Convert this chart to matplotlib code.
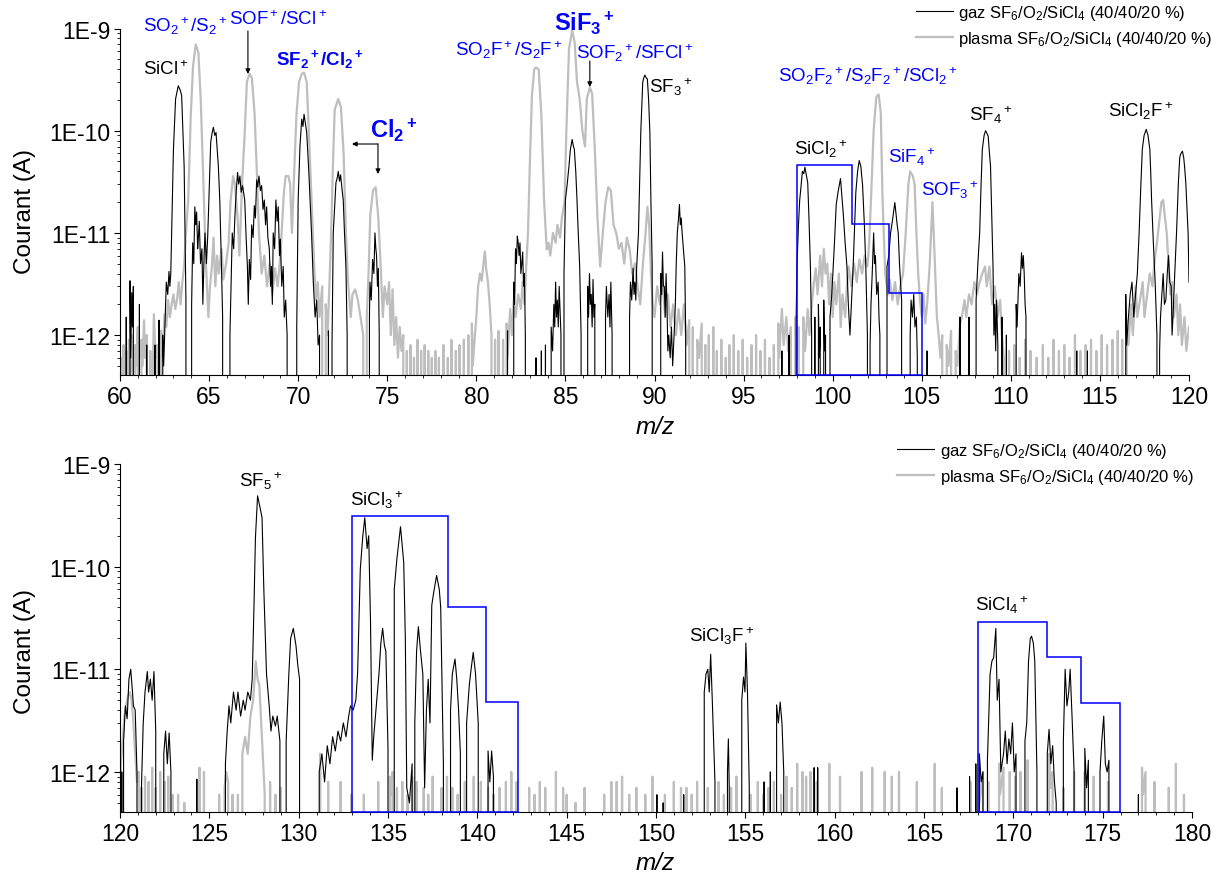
import numpy as np
import matplotlib
matplotlib.use("Agg")
import matplotlib.pyplot as plt
from matplotlib.ticker import FixedLocator, MultipleLocator, FuncFormatter, LogLocator, NullFormatter

plt.rcParams['font.family'] = ['Liberation Sans', 'DejaVu Sans']
plt.rcParams['mathtext.fontset'] = 'custom'
plt.rcParams['mathtext.rm'] = 'Liberation Sans'
plt.rcParams['mathtext.it'] = 'Liberation Sans:italic'
plt.rcParams['mathtext.bf'] = 'Liberation Sans:bold'
plt.rcParams['mathtext.default'] = 'regular'

# ---------------- data (m/z, current in pA; 0 = below detection) ----------------
gas_top = [
    (60.0,0),(60.02,1.9),(60.06,0),(60.3,0),(60.35,1.5),(60.4,0),(60.5,0),(60.56,3.4),(60.6,0.6),(60.66,2.6),
    (60.7,1.2),(60.75,3.0),(60.8,0),(61.05,0),(61.09,2.0),(61.13,0),(61.45,0),(61.5,0.8),(61.55,0),(61.92,0),
    (61.96,0.8),(62.0,0),(62.15,0),(62.19,1.4),(62.23,0),(62.37,0),(62.4,1.0),(62.45,0.5),(62.55,1.8),(62.6,3.3),
    (62.68,2.5),(62.75,4.2),(62.8,3.0),(62.85,4.0),(62.9,10),(63.0,66),(63.12,205),(63.27,275),(63.38,250),(63.46,220),
    (63.6,45),(63.7,2.2),(63.8,0),(63.95,0),(64.02,2),(64.08,8),(64.14,5),(64.2,18),(64.25,12),(64.3,16),
    (64.36,7),(64.4,9),(64.45,13),(64.52,5),(64.6,7),(64.65,2),(64.72,6),(64.77,10),(64.85,5),(64.92,9),
    (64.96,14.6),(65.09,77),(65.17,95),(65.24,108),(65.32,90),(65.39,96),(65.52,45),(65.6,21),(65.68,6),(65.76,1.5),
    (65.84,0),(66.08,0),(66.17,1),(66.3,10),(66.38,7),(66.45,14.6),(66.52,25),(66.6,39),(66.66,30),(66.73,36),
    (66.8,25),(66.88,29),(67.0,21),(67.08,9),(67.15,4.7),(67.2,2),(67.26,5.5),(67.33,3.5),(67.39,12),(67.47,9),
    (67.54,18.5),(67.6,14),(67.67,33),(67.73,28),(67.8,36),(67.88,26),(67.95,29),(68.03,17),(68.1,21),(68.17,12),
    (68.23,18),(68.3,9),(68.38,7),(68.45,3),(68.5,4.7),(68.55,2),(68.6,10),(68.68,7),(68.75,21),(68.82,13),
    (68.88,18),(68.95,6),(69.0,8.7),(69.08,3),(69.16,4.7),(69.22,1.5),(69.3,2.2),(69.38,1),(69.45,0),(69.85,0),
    (69.92,1.2),(70.0,21),(70.1,70),(70.2,130),(70.27,110),(70.33,145),(70.4,120),(70.48,96),(70.6,39),(70.75,10),
    (70.85,3.3),(70.95,1.5),(71.04,2.2),(71.12,0.8),(71.2,1),(71.3,0),(71.65,0),(71.7,1.1),(71.75,0),(71.85,0),
    (71.9,0.8),(71.97,10),(72.05,18),(72.12,31),(72.2,35),(72.25,40),(72.32,32),(72.38,37),(72.45,28),(72.53,21),
    (72.6,10),(72.68,4.7),(72.75,1),(72.8,0),(73.95,0),(74.0,1.5),(74.03,3.3),(74.1,2.2),(74.18,5.5),(74.25,4),
    (74.31,10),(74.36,7),(74.4,6),(74.45,3),(74.5,4.5),(74.55,1),(74.6,0),(81.7,0),(81.75,1.1),(81.8,0),
    (82.05,0),(82.1,3.3),(82.15,2),(82.2,7),(82.25,5),(82.3,9.3),(82.35,8),(82.4,6),(82.45,8),(82.5,4),
    (82.55,5),(82.6,6.5),(82.65,3),(82.7,4),(82.75,1),(82.8,0),(83.3,0),(83.35,0.6),(83.4,0),(83.6,0),
    (83.65,0.7),(83.7,0),(83.85,0),(83.88,0.8),(83.92,0),(84.1,0),(84.2,1.2),(84.28,0.7),(84.35,2),(84.4,1.2),
    (84.45,3.3),(84.5,1.5),(84.55,2.2),(84.6,1.2),(84.65,3),(84.75,1),(84.85,0),(84.92,4),(85.0,21),(85.1,30),
    (85.2,45),(85.28,66),(85.38,82),(85.45,70),(85.5,66),(85.58,40),(85.65,21),(85.72,10),(85.8,4.7),(85.88,1),
    (85.95,0),(86.2,0),(86.25,3),(86.3,1.5),(86.35,4),(86.4,2),(86.45,2.5),(86.5,1.2),(86.55,3.5),(86.6,1.5),
    (86.65,2),(86.72,0),(87.2,0),(87.25,1.5),(87.3,3),(87.38,1.5),(87.45,2.5),(87.5,1.2),(87.55,3.3),(87.62,1),
    (87.68,0),(88.55,0),(88.6,1.5),(88.65,3.3),(88.72,2.2),(88.8,4.5),(88.85,2.5),(88.9,3.3),(88.95,2.2),(89.0,4.7),
    (89.1,10),(89.18,40),(89.23,96),(89.3,200),(89.34,300),(89.4,330),(89.46,350),(89.53,330),(89.6,320),(89.67,200),
    (89.74,96),(89.8,20),(89.87,4.7),(89.93,0),(90.3,0),(90.35,4),(90.4,2.5),(90.45,6.5),(90.5,3),(90.55,3),
    (90.6,1.5),(90.65,4),(90.7,2),(90.75,0.7),(90.8,1),(90.88,0.6),(90.95,1.2),(91.02,0.5),(91.1,1),(91.17,2),
    (91.22,5),(91.28,10),(91.35,14),(91.4,19),(91.45,12),(91.5,14),(91.55,10),(91.62,7),(91.7,4.7),(91.75,1),
    (91.78,0),(97.1,0),(97.15,0.7),(97.2,0),(97.5,0),(97.55,1),(97.6,0),(97.9,0),(97.95,1.5),(98.0,5),
    (98.08,12),(98.15,21),(98.22,28),(98.3,40),(98.38,38),(98.44,44),(98.52,37),(98.6,31),(98.67,14),(98.75,4.7),
    (98.82,1),(98.9,0),(99.0,1.5),(99.05,0),(99.15,0),(99.2,2),(99.25,0.6),(99.3,1.2),(99.38,0),(99.45,0),
    (99.5,2.2),(99.55,0.7),(99.6,1),(99.65,0),(99.8,0),(99.85,1.5),(99.95,2.5),(100.03,4.7),(100.1,8),(100.2,19),
    (100.3,25),(100.38,30),(100.44,34),(100.5,25),(100.6,15),(100.7,8),(100.8,4.7),(100.88,2),(100.97,1),(101.05,2),
    (101.15,4.7),(101.22,10),(101.3,25),(101.4,40),(101.49,51),(101.58,45),(101.68,29),(101.78,12),(101.86,4.7),(101.95,1),
    (102.05,0),(102.1,0.8),(102.15,2),(102.22,4),(102.3,10),(102.35,5),(102.4,6),(102.47,2.5),(102.55,3.3),(102.6,1.5),
    (102.65,1),(102.72,0),(103.0,0),(103.05,4.7),(103.15,6),(103.25,10),(103.35,13),(103.42,16),(103.49,19.8),(103.56,15),
    (103.62,12),(103.68,10),(103.75,5),(103.82,3),(103.87,2.2),(103.96,0),(104.3,0),(104.35,1),(104.4,2.2),(104.48,1.5),
    (104.55,2.5),(104.62,1.2),(104.7,1.5),(104.75,0.6),(104.8,0),(105.2,0),(105.3,0.7),(105.4,0),(107.1,0),(107.15,1.5),
    (107.2,0),(107.6,0),(107.65,1.5),(107.7,0),(108.0,0),(108.05,2.2),(108.15,5),(108.25,10),(108.33,30),(108.4,66),
    (108.5,90),(108.58,100),(108.65,95),(108.73,88),(108.8,60),(108.86,45),(108.93,15),(109.0,4.7),(109.05,1),(109.1,2),
    (109.15,0.7),(109.2,2.2),(109.27,0.8),(109.35,0),(109.45,0),(109.5,1.5),(109.55,0),(109.7,0),(109.75,1),(109.8,0),
    (110.25,0),(110.3,2),(110.35,1.2),(110.45,4),(110.52,3),(110.6,6.4),(110.65,4.5),(110.7,6),(110.75,4),(110.8,2),
    (110.85,1.5),(110.9,0),(113.65,0),(113.7,0.7),(113.75,0),(114.25,0),(114.3,0.7),(114.35,0),(116.4,0),(116.45,2.5),
    (116.5,0.8),(116.6,1.5),(116.7,2.5),(116.8,3.3),(116.9,1.5),(117.0,2.5),(117.1,4),(117.2,10),(117.3,30),(117.38,66),
    (117.48,90),(117.6,103),(117.7,90),(117.8,66),(117.85,40),(117.9,21),(118.0,8),(118.1,3.3),(118.2,1),(118.3,0),
    (118.35,0.7),(118.4,1.5),(118.48,2.5),(118.55,4),(118.62,2),(118.7,2.2),(118.78,4),(118.85,6),(118.92,3.3),(119.0,3),
    (119.05,1),(119.1,1.5),(119.2,4),(119.3,10),(119.4,30),(119.48,55),(119.55,60),(119.63,63),(119.7,55),(119.75,45),
    (119.82,31),(119.88,18),(119.95,10),(120.0,3.3),
]

plasma_top = [
    (60.0,0),(60.05,0.6),(60.1,0),(60.2,0.8),(60.25,0),(60.35,0.7),(60.4,0.5),(60.45,0),(60.5,0.9),(60.55,0),
    (60.65,1.0),(60.7,0),(60.85,0.8),(60.9,0.5),(61.0,1.2),(61.05,0),(61.2,0.9),(61.25,0.5),(61.35,1.4),(61.4,0.6),
    (61.5,1.0),(61.55,0),(61.7,0.7),(61.75,0),(61.85,0.5),(61.9,1.6),(62.0,0.6),(62.1,0.8),(62.2,0),(62.3,1.1),
    (62.4,0.7),(62.5,1.6),(62.6,1.2),(62.7,2.2),(62.8,1.5),(62.9,2),(63.0,2.5),(63.1,1.8),(63.2,2.2),(63.3,3.3),
    (63.4,2.0),(63.5,3.3),(63.6,4.7),(63.7,10),(63.83,21),(63.97,140),(64.1,430),(64.25,700),(64.4,580),(64.53,205),
    (64.68,31),(64.83,4.7),(64.96,1.5),(65.05,3),(65.15,4.5),(65.25,9),(65.35,3),(65.45,6),(65.55,4),(65.7,7),
    (65.8,3.5),(65.95,5),(66.1,8),(66.2,20),(66.35,36),(66.45,30),(66.6,14),(66.7,6),(66.85,30),(67.0,96),
    (67.12,300),(67.27,360),(67.4,330),(67.55,150),(67.67,45),(67.8,10),(67.95,4),(68.1,6),(68.25,3),(68.4,5),
    (68.55,2.5),(68.7,4.5),(68.85,3),(69.0,6),(69.1,12),(69.2,25),(69.3,36),(69.45,36),(69.55,30),(69.65,10),
    (69.75,30),(69.9,140),(70.05,300),(70.2,360),(70.33,370),(70.48,300),(70.6,96),(70.75,21),(70.9,4.7),(71.0,2.2),
    (71.1,3.3),(71.2,1.5),(71.35,3),(71.45,0),(71.55,2),(71.65,1),(71.75,3),(71.85,10),(71.95,45),(72.05,160),
    (72.25,205),(72.4,170),(72.55,60),(72.68,10),(72.8,3.3),(72.95,1.5),(73.05,2.5),(73.2,2.8),(73.35,2.2),(73.5,1.5),
    (73.65,1),(73.75,0),(73.85,1.5),(73.95,4),(74.05,15),(74.2,26),(74.35,28),(74.5,14),(74.65,4),(74.75,1.5),
    (74.85,3),(75.0,2),(75.1,3.3),(75.2,1),(75.3,2.8),(75.4,0.8),(75.5,1.5),(75.6,0.6),(75.7,1.2),(75.8,0.7),
    (75.9,1),(76.0,0),(76.1,0.7),(76.15,0),(76.3,0.8),(76.35,0),(76.5,0.6),(76.55,0),(76.7,0.9),(76.75,0),
    (76.9,0.7),(76.95,0),(77.1,0.8),(77.15,0),(77.3,0.7),(77.35,0),(77.5,0.6),(77.55,0),(77.7,0.7),(77.75,0),
    (77.9,0.6),(77.95,0),(78.15,0.8),(78.2,0),(78.4,0.6),(78.45,0),(78.6,0.9),(78.65,0),(78.85,0.7),(78.9,0),
    (79.05,0.8),(79.1,0),(79.3,0.9),(79.35,0),(79.55,1.0),(79.6,0),(79.75,1.3),(79.8,0.5),(79.9,0.9),(80.0,1.5),
    (80.1,3),(80.2,4),(80.3,3.4),(80.4,5),(80.48,6.6),(80.55,4.5),(80.65,3.3),(80.75,2),(80.85,1.0),(80.95,0),
    (81.05,0.9),(81.1,0),(81.25,1.1),(81.3,0),(81.5,0.9),(81.55,0),(81.7,1.3),(81.75,0.6),(81.9,1.8),(82.0,1),
    (82.1,2.2),(82.2,1.5),(82.35,2.5),(82.5,1.8),(82.6,3.3),(82.7,2),(82.8,4.7),(82.9,10),(83.0,45),(83.12,220),
    (83.25,400),(83.34,415),(83.5,400),(83.65,140),(83.8,21),(83.95,6.9),(84.05,8),(84.15,6),(84.3,10),(84.45,8),
    (84.55,12),(84.7,9),(84.8,14),(84.95,20),(85.05,96),(85.2,630),(85.38,960),(85.52,730),(85.65,300),(85.8,205),
    (85.95,100),(86.1,70),(86.2,205),(86.37,265),(86.5,230),(86.65,66),(86.8,14),(86.95,4.7),(87.1,10),(87.25,20),
    (87.4,28),(87.55,26),(87.7,12),(87.85,10),(88.0,7),(88.15,8),(88.3,5),(88.45,9),(88.6,7),(88.75,4),
    (88.9,5),(89.05,3),(89.2,2),(89.35,5),(89.5,10),(89.6,18),(89.7,12),(89.8,4),(89.9,2),(90.0,1.5),
    (90.15,3),(90.3,2),(90.45,3.3),(90.6,1.5),(90.75,2.5),(90.9,1.2),(91.05,2),(91.2,1),(91.35,1.8),(91.5,1),
    (91.65,2),(91.8,0.8),(91.95,1.4),(92.05,0),(92.15,1.2),(92.25,0),(92.4,0.9),(92.5,0.6),(92.65,1.3),(92.7,0),
    (92.85,0.8),(92.9,0),(93.05,1.0),(93.1,0),(93.3,1.2),(93.35,0),(93.5,0.7),(93.55,0),(93.75,0.9),(93.8,0),
    (94.0,0.6),(94.05,0),(94.2,0.8),(94.25,0),(94.45,1.0),(94.5,0),(94.7,0.7),(94.75,0),(94.95,0.9),(95.0,0),
    (95.2,0.6),(95.25,0),(95.45,0.8),(95.5,0),(95.7,1.0),(95.75,0),(95.95,0.7),(96.0,0),(96.2,0.9),(96.25,0),
    (96.45,0.6),(96.5,0),(96.7,0.8),(96.75,0),(96.95,1.3),(97.0,0.6),(97.15,1.8),(97.25,0.8),(97.4,1.5),(97.5,0.7),
    (97.65,1.2),(97.75,0),(97.9,1.5),(98.0,0.6),(98.1,1.2),(98.2,0),(98.35,1.5),(98.45,0.7),(98.6,1.8),(98.7,1),
    (98.85,2.2),(98.95,3.3),(99.05,4.5),(99.15,2.5),(99.3,6),(99.4,3),(99.5,7),(99.6,4),(99.7,5),(99.8,2),
    (99.9,4),(100.0,1.5),(100.1,3.3),(100.2,2),(100.35,4),(100.45,1.2),(100.55,2.5),(100.7,1.5),(100.8,3),(100.9,4.7),
    (101.05,3),(101.2,5),(101.35,3.3),(101.5,5.5),(101.65,4),(101.8,6),(101.95,4.7),(102.05,8),(102.15,21),(102.3,100),
    (102.45,215),(102.58,226),(102.7,150),(102.8,21),(102.95,4),(103.1,2.5),(103.2,3.5),(103.35,2.2),(103.5,3.3),(103.65,2),
    (103.8,3),(103.95,4),(104.1,10),(104.25,30),(104.35,40),(104.5,36),(104.6,30),(104.7,10),(104.8,4),(104.9,2.2),
    (105.0,1.5),(105.1,2.5),(105.2,1.3),(105.3,2),(105.45,5),(105.6,20),(105.72,6),(105.85,1.5),(105.95,1),(106.05,0.6),
    (106.15,1),(106.25,0),(106.4,0.8),(106.5,0.5),(106.65,1.1),(106.75,0),(106.9,0.7),(107.0,0.5),(107.15,1.3),(107.25,1.5),
    (107.4,2.2),(107.5,1.5),(107.65,2.5),(107.8,2),(107.95,3.3),(108.1,2.5),(108.25,3.3),(108.4,4),(108.55,4.7),(108.65,3),
    (108.8,4.7),(108.95,2),(109.1,3),(109.25,1.5),(109.4,2.2),(109.5,1),(109.6,0.6),(109.75,0),(109.9,0.7),(110.0,0),
    (110.2,0.8),(110.25,0),(110.5,0.6),(110.55,0),(110.8,0.9),(110.85,0),(111.1,0.7),(111.15,0),(111.45,0.6),(111.5,0),
    (111.8,0.8),(111.85,0),(112.1,0.6),(112.15,0),(112.4,0.9),(112.45,0),(112.7,0.7),(112.75,0),(113.0,0.8),(113.05,0),
    (113.3,0.6),(113.35,0),(113.6,1.0),(113.65,0),(113.9,0.7),(113.95,0),(114.2,0.8),(114.25,0),(114.5,0.9),(114.55,0),
    (114.8,0.7),(114.85,0),(115.1,1.0),(115.15,0),(115.4,0.8),(115.45,0),(115.7,0.9),(115.75,0),(116.0,1.1),(116.05,0),
    (116.25,0.9),(116.3,0),(116.5,1.4),(116.6,0.8),(116.75,2),(116.85,1),(117.0,3),(117.1,1.5),(117.25,2.2),(117.4,3.3),
    (117.5,1.5),(117.65,2.5),(117.8,4),(117.95,3),(118.05,5),(118.2,8),(118.35,14),(118.45,20),(118.55,21),(118.65,14),
    (118.75,10),(118.85,5),(118.95,2.5),(119.05,3.3),(119.15,1.5),(119.3,2.5),(119.4,1),(119.5,2),(119.6,0.8),(119.75,1.5),
    (119.85,0.7),(120.0,1.2),
]

gas_bottom = [
    (120.0,0),(120.1,1),(120.15,0),(120.2,2),(120.3,4.4),(120.4,3.3),(120.5,8),(120.6,10),(120.7,6),(120.75,4.4),
    (120.85,4),(120.95,1),(121.1,0),(121.2,0.7),(121.3,3),(121.4,6),(121.53,9.5),(121.6,6),(121.7,8),(121.8,5),
    (121.9,9.5),(122.0,2.5),(122.1,0),(122.4,0),(122.45,1.5),(122.55,2.5),(122.65,1.2),(122.75,2.4),(122.85,1),(122.95,0),
    (124.25,0),(124.3,0.85),(124.35,0),(125.8,0),(125.9,1.2),(126.0,2.5),(126.1,4.4),(126.2,3),(126.35,6),(126.5,4),
    (126.6,6),(126.75,3.5),(126.9,5),(127.0,4),(127.15,6),(127.3,5),(127.4,8),(127.5,42),(127.58,190),(127.7,490),
    (127.82,390),(127.95,300),(128.05,60),(128.2,9),(128.35,4.4),(128.45,2.5),(128.55,3.5),(128.7,2.8),(128.8,3.5),(128.95,2),
    (129.05,0),(129.2,0),(129.3,2),(129.45,9),(129.55,20),(129.7,25),(129.85,17),(129.95,11),(130.05,8),(130.1,0),
    (131.1,0),(131.15,1),(131.3,1.5),(131.45,0.8),(131.6,1.8),(131.75,1.2),(131.9,2.2),(132.05,1.6),(132.2,2.5),(132.35,2),
    (132.5,3),(132.65,2.2),(132.8,3.5),(132.9,4.4),(133.05,4),(133.2,5),(133.3,9.3),(133.45,95),(133.58,190),(133.7,300),
    (133.83,150),(133.92,200),(134.02,30),(134.12,1.3),(134.2,2.2),(134.5,9.3),(134.6,18),(134.7,25),(134.8,17),(134.88,15),
    (135.0,1.7),(135.1,0),(135.3,0),(135.35,60),(135.5,120),(135.7,245),(135.88,110),(135.97,20),(136.05,0.7),(136.2,0.5),
    (136.35,1.2),(136.45,0),(136.5,3),(136.6,15),(136.7,26),(136.82,15),(136.95,9),(137.05,0.7),(137.15,4),(137.25,8),
    (137.35,3),(137.45,42),(137.55,55),(137.72,82),(137.87,60),(137.95,40),(138.1,1.2),(138.2,0),(138.45,0),(138.5,4),
    (138.6,9),(138.75,12.6),(138.85,8),(138.95,4),(139.05,1.5),(139.15,0),(139.35,0),(139.4,3),(139.55,7),(139.65,10),
    (139.77,14.6),(139.9,9),(140.05,3),(140.15,0),(140.55,0),(140.6,1.6),(140.7,0.8),(140.8,1.6),(140.9,0.9),(141.0,0),
    (150.0,0),(150.05,0.6),(150.1,0),(150.35,0),(150.4,0.5),(150.45,0),(151.5,0),(151.55,0.6),(151.6,0),(152.6,0),
    (152.7,6),(152.8,9),(152.9,10),(152.98,6),(153.06,14),(153.15,5),(153.3,0.8),(153.4,0),(153.9,0),(154.0,1),
    (154.05,2.1),(154.1,0.7),(154.2,0),(154.75,0),(154.8,5),(154.9,8.4),(154.98,6),(155.03,18),(155.12,6),(155.22,0.7),
    (155.3,0),(156.0,0),(156.05,0.8),(156.1,0),(156.35,0),(156.4,1),(156.45,0),(156.7,0),(156.75,4.5),(156.85,3),
    (156.95,4.8),(157.05,3),(157.15,1),(157.25,0),(158.8,0),(158.85,1.1),(158.9,0),(159.0,0),(159.05,1.1),(159.1,0),
    (166.8,0),(166.85,0.7),(166.9,0),(167.5,0),(167.55,0.9),(167.6,0),(167.85,0),(167.9,1.2),(167.95,0),(168.05,0),
    (168.1,1.5),(168.2,0.8),(168.3,1),(168.4,0),(168.55,1.3),(168.7,9),(168.8,12),(168.9,13),(169.02,25),(169.1,5),
    (169.2,8),(169.3,1),(169.45,1.5),(169.55,2.5),(169.65,1.2),(169.75,2.1),(169.85,1.5),(169.95,3),(170.05,1),(170.15,1.5),
    (170.3,0),(170.55,0),(170.65,2),(170.75,3),(170.85,12),(170.95,20),(171.02,21),(171.12,18),(171.2,12),(171.32,1),
    (171.4,0),(171.85,0),(171.9,1.5),(172.0,2.6),(172.1,1.2),(172.2,1.8),(172.3,0.8),(172.4,0.5),(172.55,0),(172.75,0),
    (172.8,2),(172.9,10),(173.0,4.4),(173.1,6),(173.18,10),(173.3,3),(173.4,1),(173.5,0),(173.95,0),(174.0,1.7),
    (174.1,0.7),(174.2,1.3),(174.3,0),(174.8,0),(174.85,1),(174.95,2),(175.06,3.5),(175.15,1.2),(175.25,1),(175.35,1.3),
    (175.45,0),(176.95,0),(177.0,0.6),(177.05,0),(180.0,0),
]

plasma_bottom = [
    (120.0,0),(120.05,1.2),(120.15,2),(120.25,3.5),(120.35,4.5),(120.45,5.5),(120.55,6),(120.65,5),(120.75,3),(120.85,1.5),
    (120.95,0.8),(121.05,1.0),(121.1,0),(121.2,0.7),(121.25,0),(121.4,0.9),(121.45,0),(121.6,0.8),(121.65,0),(121.8,1.1),
    (121.85,0),(122.0,0.7),(122.05,0),(122.25,1.0),(122.3,0),(122.5,0.8),(122.55,0),(122.7,0.9),(122.75,0),(122.95,0.6),
    (123.0,0),(123.25,0.6),(123.3,0),(123.6,0.5),(123.65,0),(124.4,0),(124.45,1.1),(124.5,0),(124.7,1.0),(124.75,0),
    (125.5,0),(125.55,0.6),(125.6,0),(125.85,0.7),(125.95,1),(126.05,0.8),(126.15,0),(126.3,0.6),(126.35,0),(126.6,0.6),
    (126.65,0),(126.85,1.5),(127.0,2.2),(127.15,1.5),(127.3,3.5),(127.45,5),(127.6,12),(127.7,8),(127.8,7),(127.95,2),
    (128.1,0.6),(128.2,0),(128.4,0.8),(128.45,0),(128.7,0.6),(128.75,0),(129.0,0.7),(129.05,0),(131.15,0),(131.2,1.5),
    (131.25,0),(131.6,0),(131.65,0.8),(131.7,0),(132.3,0),(132.35,0.8),(132.4,0),(132.9,0),(132.95,0.6),(133.0,0),
    (133.6,0),(133.65,0.6),(133.7,0),(134.4,0),(134.45,0.8),(134.5,0),(135.05,0),(135.1,0.9),(135.15,0.6),(135.25,1.0),
    (135.3,0),(135.5,0.7),(135.55,0),(135.8,0.8),(135.85,0),(136.1,0.6),(136.15,0),(136.35,0.9),(136.4,0),(136.6,0.8),
    (136.65,0),(137.0,0.7),(137.05,0),(137.25,0.6),(137.3,0),(137.5,0.9),(137.55,0),(138.0,0.7),(138.05,0),(138.3,0.9),
    (138.35,0),(138.6,0.7),(138.65,0),(138.9,0.6),(138.95,0),(139.3,0.8),(139.35,0),(139.8,0.9),(139.85,0),(140.2,0.8),
    (140.25,0),(140.6,0.7),(140.65,0),(140.9,0.6),(140.95,0),(141.25,0.7),(141.3,0),(141.6,0.8),(141.65,0),(141.9,1.0),
    (141.95,0),(142.2,0.8),(142.25,0),(142.9,0.7),(142.95,0),(143.2,0.6),(143.25,0),(143.5,0.8),(143.55,0),(143.8,0.7),
    (143.85,0),(144.4,1.0),(144.45,0),(144.8,0.7),(144.85,0),(145.0,0.6),(145.05,0),(145.5,0.5),(145.55,0),(146.0,0.7),
    (146.05,0),(147.1,0.6),(147.15,0),(147.5,0.8),(147.55,0),(147.8,0.8),(147.85,0),(148.1,0.9),(148.15,0),(148.5,0.6),
    (148.55,0),(148.9,0.7),(148.95,0),(149.4,0.6),(149.45,0),(149.8,0.9),(149.85,0),(150.5,0.6),(150.55,0),(151.0,0.8),
    (151.05,0),(151.4,0.7),(151.45,0),(151.7,0.7),(151.75,0),(152.0,0.6),(152.05,0),(152.3,0.8),(152.35,0),(152.9,0.7),
    (152.95,0),(153.5,0.8),(153.55,0),(153.8,0.6),(153.85,0),(154.2,0.7),(154.25,0),(154.5,0.9),(154.55,0),(155.3,0.6),
    (155.35,0),(155.7,0.8),(155.75,0),(156.0,0.6),(156.05,0),(156.3,0.7),(156.35,0),(156.6,0.8),(156.65,0),(157.0,0.6),
    (157.05,0),(157.3,0.9),(157.35,0),(157.6,0.7),(157.65,0),(157.9,1.2),(157.95,0),(158.2,1.0),(158.25,0),(158.4,0.9),
    (158.45,0),(158.65,1.0),(158.7,0),(159.0,0.8),(159.05,0),(159.7,1.2),(159.75,0),(160.3,0.9),(160.35,0),(161.5,1.0),
    (161.55,0),(162.1,1.1),(162.15,0),(162.8,1.0),(162.85,0),(163.2,0.9),(163.25,0),(163.6,1.0),(163.65,0),(164.6,0.8),
    (164.65,0),(165.6,1.2),(165.65,0),(166.0,0.7),(166.05,0),(167.6,0.8),(167.65,0),(168.05,1.5),(168.1,0.5),(168.3,1),
    (168.35,0),(168.6,0.8),(168.65,0),(169.2,1.2),(169.25,0.6),(169.45,1.1),(169.5,0),(169.8,1.0),(169.85,0),(170.1,0.9),
    (170.15,0),(170.4,1.0),(170.45,0),(170.8,1.3),(170.85,0),(172.0,1.5),(172.1,0.7),(172.2,1.0),(172.25,0),(172.8,0.7),
    (172.85,0),(173.4,1.0),(173.45,0),(174.0,1.0),(174.05,0),(174.5,0.9),(174.55,0),(175.3,0.8),(175.35,0),(177.2,1.1),
    (177.25,0.6),(177.4,1.0),(177.45,0),(177.9,0.8),(177.95,0),(178.7,0.7),(178.75,0),(179.1,1.2),(179.15,0),(179.55,0.6),
    (179.6,0),(180.0,0),
]

# isotope-pattern boxes (m/z edges, current levels in A)
box_sicl2_edges = [98.0, 101.1, 103.15, 105.0]
box_sicl2_levels = [4.6e-11, 1.22e-11, 2.58e-12]
box_sicl3_edges = [133.0, 138.35, 140.5, 142.3]
box_sicl3_levels = [3.14e-10, 4.07e-11, 4.82e-12]
box_sicl4_edges = [168.0, 171.9, 173.8, 175.96]
box_sicl4_levels = [2.88e-11, 1.32e-11, 4.68e-12]

legend_gas = "gaz SF$_6$/O$_2$/SiCl$_4$ (40/40/20 %)"
legend_plasma = "plasma SF$_6$/O$_2$/SiCl$_4$ (40/40/20 %)"

YMIN, YMAX = 4.07e-13, 1.0e-9
GRAY = '#bebebe'
BLUE = '#0000ff'

def to_arrays(pairs):
    a = np.array(pairs, dtype=float)
    o = np.argsort(a[:, 0], kind='stable')
    return a[o, 0], a[o, 1] * 1e-12

W, H = 1227, 879
fig = plt.figure(figsize=(W / 100, H / 100), dpi=100)
ax1 = fig.add_axes([120 / W, 1 - 376 / H, 1069 / W, 346.5 / H])
ax2 = fig.add_axes([120 / W, 1 - 813 / H, 1072 / W, 348 / H])

def style(ax, xlim):
    ax.set_yscale('log')
    ax.set_xlim(*xlim)
    ax.set_ylim(YMIN, YMAX)
    for s in ('top', 'right'):
        ax.spines[s].set_visible(False)
    ax.xaxis.set_major_locator(MultipleLocator(5))
    ax.xaxis.set_minor_locator(MultipleLocator(1))
    ax.yaxis.set_major_locator(FixedLocator([1e-12, 1e-11, 1e-10, 1e-9]))
    ax.yaxis.set_minor_locator(LogLocator(base=10, subs=np.arange(2, 10)))
    ax.yaxis.set_minor_formatter(NullFormatter())
    ax.yaxis.set_major_formatter(FuncFormatter(lambda v, p: "1E%d" % int(round(np.log10(v)))))
    ax.tick_params(which='major', length=4, width=0.8, labelsize=16.5, pad=3)
    ax.tick_params(which='minor', length=2, width=0.6)

def draw(ax, gas, plasma, xlim):
    style(ax, xlim)
    xg, yg = to_arrays(gas)
    xp, yp = to_arrays(plasma)
    lp, = ax.plot(xp, yp, color=GRAY, lw=1.6, zorder=2, label=legend_plasma)
    lg, = ax.plot(xg, yg, color='black', lw=0.8, zorder=3, label=legend_gas)
    return lg, lp

def box(ax, edges, levels):
    ax.stairs(levels, edges, baseline=YMIN, color=BLUE, lw=1.1, zorder=4)
    ax.plot([edges[0], edges[-1]], [YMIN, YMIN], color=BLUE, lw=1.1, zorder=4, clip_on=False)

lg1, lp1 = draw(ax1, gas_top, plasma_top, (60, 120))
lg2, lp2 = draw(ax2, gas_bottom, plasma_bottom, (120, 180))
box(ax1, box_sicl2_edges, box_sicl2_levels)
box(ax2, box_sicl3_edges, box_sicl3_levels)
box(ax2, box_sicl4_edges, box_sicl4_levels)

leg_kw = dict(loc='upper left', bbox_transform=fig.transFigure, frameon=False, fontsize=12,
              handlelength=2.2, handletextpad=0.35, labelspacing=0.4, borderpad=0, borderaxespad=0)
ax1.legend(handles=[lg1, lp1], bbox_to_anchor=(916 / W, 1 - 4 / H), **leg_kw)
ax2.legend(handles=[lg2, lp2], bbox_to_anchor=(897 / W, 1 - 442 / H), **leg_kw)

def lab(ax, x, y, s, color='black', size=13.5, weight='normal'):
    ax.text(x, y, s, color=color, fontsize=size, fontweight=weight, ha='center', va='center', zorder=6)

def arrow(ax, x0, y0, x1, y1):
    ax.annotate('', xy=(x1, y1), xytext=(x0, y0),
                arrowprops=dict(arrowstyle='-|>', color='black', lw=0.8, mutation_scale=7,
                                shrinkA=0, shrinkB=0))

# top panel labels
lab(ax1, 62.58, 4.02e-10, "SiCl$^+$")
lab(ax1, 63.65, 1.08e-9, "SO$_2$$^+$/S$_2$$^+$", BLUE)
lab(ax1, 68.87, 1.24e-9, "SOF$^+$/SCl$^+$", BLUE)
arrow(ax1, 67.18, 9.46e-10, 67.18, 3.59e-10)
lab(ax1, 71.22, 5.03e-10, "SF$_2$$^+$/Cl$_2$$^+$", BLUE, 13.5, 'bold')
lab(ax1, 75.38, 1.04e-10, "Cl$_2$$^+$", BLUE, 17, 'bold')
arrow(ax1, 74.48, 7.41e-11, 73.02, 7.41e-11)
arrow(ax1, 74.48, 7.41e-11, 74.48, 3.77e-11)
lab(ax1, 81.83, 6.3e-10, "SO$_2$F$^+$/S$_2$F$^+$", BLUE)
lab(ax1, 86.09, 1.16e-9, "SiF$_3$$^+$", BLUE, 17, 'bold')
lab(ax1, 88.9, 5.89e-10, "SOF$_2$$^+$/SFCl$^+$", BLUE)
arrow(ax1, 86.37, 4.81e-10, 86.37, 2.68e-10)
lab(ax1, 90.92, 2.74e-10, "SF$_3$$^+$")
lab(ax1, 101.98, 3.51e-10, "SO$_2$F$_2$$^+$/S$_2$F$_2$$^+$/SCl$_2$$^+$", BLUE)
lab(ax1, 99.34, 6.78e-11, "SiCl$_2$$^+$")
lab(ax1, 104.44, 5.65e-11, "SiF$_4$$^+$", BLUE)
lab(ax1, 106.58, 2.69e-11, "SOF$_3$$^+$", BLUE)
lab(ax1, 108.88, 1.46e-10, "SF$_4$$^+$")
lab(ax1, 117.3, 1.6e-10, "SiCl$_2$F$^+$")

# bottom panel labels
lab(ax2, 127.89, 6.99e-10, "SF$_5$$^+$")
lab(ax2, 134.38, 4.56e-10, "SiCl$_3$$^+$")
lab(ax2, 153.69, 2.16e-11, "SiCl$_3$F$^+$")
lab(ax2, 169.36, 4.34e-11, "SiCl$_4$$^+$")

# axis titles
fig.text(25 / W, 1 - 212 / H, "Courant (A)", rotation=90, ha='center', va='center', fontsize=17.5)
fig.text(25 / W, 1 - 651 / H, "Courant (A)", rotation=90, ha='center', va='center', fontsize=17.5)
fig.text(655 / W, 1 - 427 / H, "m/z", style='italic', ha='center', va='center', fontsize=17.5)
fig.text(655 / W, 1 - 864 / H, "m/z", style='italic', ha='center', va='center', fontsize=17.5)

fig.savefig("out.png", dpi=100)
